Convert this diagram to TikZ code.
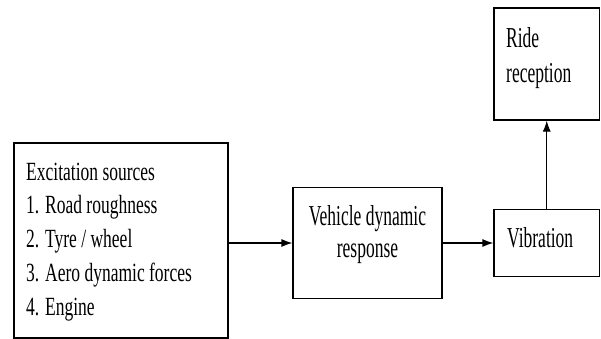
\documentclass[tikz,border=0pt]{standalone}
\usepackage{fontspec}
\setmainfont{Liberation Serif}
\usetikzlibrary{arrows.meta}
\newcommand{\vstretch}[2]{\scalebox{1}[#1]{#2}}
\begin{document}
\begin{tikzpicture}[x=1pt,y=-1pt,
  box/.style={draw, line width=1.2pt, inner sep=0pt},
  lbl/.style={inner sep=0pt},
  arr/.style={line width=1.3pt, -{Latex[length=11pt,width=8pt]}}]
\useasboundingbox (0,0) rectangle (601,339);
% boxes
\node[box, minimum width=214pt, minimum height=195pt] (src) at (121,240.5) {};
\node[box, minimum width=149pt, minimum height=111pt] (mid) at (367.5,243) {};
\node[box, minimum width=105.5pt, minimum height=67pt] (vib) at (546.75,243) {};
\node[box, minimum width=105.5pt, minimum height=112pt] (ride) at (546.75,64) {};
% texts
\node[lbl, anchor=north west] (srctxt) at (26,156.4) {\vstretch{1.5}{\fontsize{17.5}{22.5}\selectfont
  \begin{tabular}{@{}l@{}}Excitation sources\\ 1. Road roughness\\ 2. Tyre / wheel\\ 3. Aero dynamic forces\\ 4. Engine\end{tabular}}};
\node[lbl, anchor=north] (midtxt) at (367.5,202.6) {\vstretch{1.65}{\fontsize{17.5}{19.4}\selectfont
  \begin{tabular}{@{}c@{}}Vehicle dynamic\\ response\end{tabular}}};
\node[lbl, anchor=base west] (vibtxt) at (507,247) {\vstretch{1.65}{\fontsize{17.5}{21}\selectfont Vibration}};
\node[lbl, anchor=north west] (ridetxt) at (506,22.5) {\vstretch{1.65}{\fontsize{17.5}{21.2}\selectfont
  \begin{tabular}{@{}l@{}}Ride\\ reception\end{tabular}}};
% connectors
\draw[arr] (src.east |- mid.west) -- (mid.west);
\draw[arr] (mid.east) -- (vib.west);
\draw[arr, line width=1.1pt] (vib.north) -- (ride.south);
\end{tikzpicture}
\end{document}
